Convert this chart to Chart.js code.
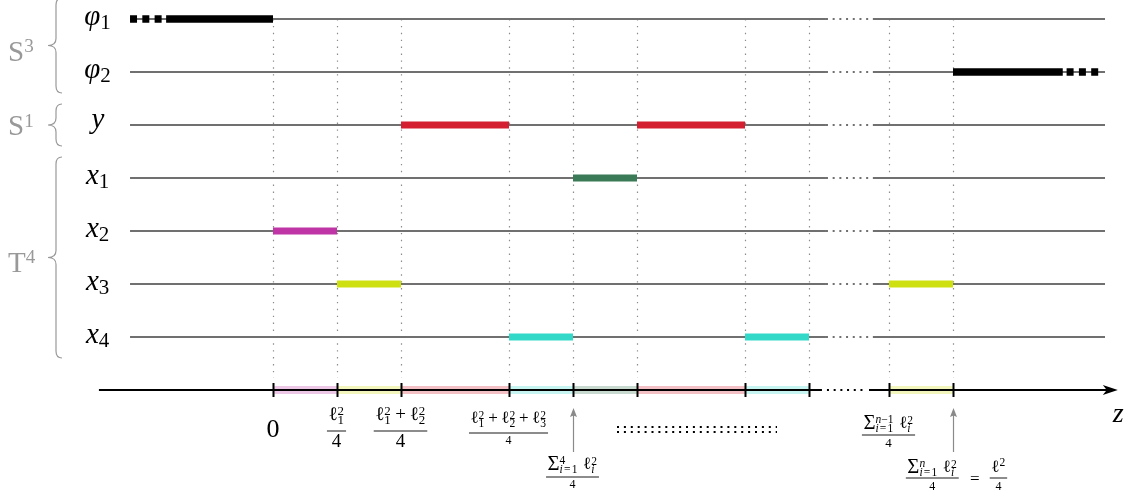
<!DOCTYPE html>
<html>
<head>
<meta charset="utf-8">
<script src="https://cdn.jsdelivr.net/npm/chart.js@4.4.1/dist/chart.umd.min.js"></script>
<style>
  html, body { margin: 0; padding: 0; background: #fff; }
  canvas { display: block; }
</style>
</head>
<body>
<canvas id="c" width="1137" height="498"></canvas>
<script>
// ---- data -------------------------------------------------------------
// Rows, top to bottom, and the colour of the intervals on each row.
const rowLabels = ['φ_1', 'φ_2', 'y', 'x_1', 'x_2', 'x_3', 'x_4'];
const rowColors = ['#000000', '#000000', '#d41f30', '#3b7a57', '#c035a5', '#cfe011', '#33d9c8'];
// Breakpoints on the z axis (unit: one ℓ_i²/4 step of the short intervals).
const zTicks = [0, 1, 2, 3.6875, 4.6875, 5.6875, 7.375, 8.375, 9.625, 10.625];
// Intervals per row as [zStart, zEnd].
const segPhi1 = [[-1.67, 0]];
const segPhi2 = [[10.625, 12.34]];
const segY = [[2, 3.6875], [5.6875, 7.375]];
const segX1 = [[4.6875, 5.6875]];
const segX2 = [[0, 1]];
const segX3 = [[1, 2], [9.625, 10.625]];
const segX4 = [[3.6875, 4.6875], [7.375, 8.375]];
// Dashed continuation of the φ intervals past the drawn range.
const fadePhi1 = [-2.234, -1.72];
const fadePhi2 = [12.40, 12.93];
// Extent of the row guide lines and of the elided (dotted) stretch.
const rowExtent = [-2.234, 13.0];
const rowGap = [8.64, 9.375];
const axisExtent = [-2.72, 13.2];
// Groups of rows.
const groupLabels = ['S^3', 'S^1', 'T^4'];
const groupFirst = [0, 2, 3];
const groupLast = [1, 2, 6];
// Labels under the z axis: which breakpoint, and the formula.
const tickLabelIdx = [0, 1, 2, 3, 4, 8, 9];
const tickLabels = [
  '0',
  '\\f{ℓ_1^2}{4}',
  '\\f{ℓ_1^2+ℓ_2^2}{4}',
  '\\f{ℓ_1^2+ℓ_2^2+ℓ_3^2}{4}',
  '\\f{Σ_{i=1}^4 ℓ_i^2}{4}',
  '\\f{Σ_{i=1}^{n−1} ℓ_i^2}{4}',
  '\\f{Σ_{i=1}^n ℓ_i^2}{4} = \\f{ℓ^2}{4}'
];
const arrowTickIdx = [4, 9];
const axisLabel = 'z';

// ---- layout -----------------------------------------------------------
const X_MIN = -273 / 64, X_MAX = (1137 - 273) / 64;
const Y_MIN = -19 / 53, Y_MAX = -19 / 53 + 498 / 53;
const AXIS_ROW = rowLabels.length;
const labelStyle = [
  { size: 26, axis: 428 },
  { size: 19, den: 19, axis: 431, gn: 11, gd: 16 },
  { size: 19, den: 19, axis: 431, gn: 11, gd: 16 },
  { size: 17, den: 12, axis: 433, gn: 10, gd: 11 },
  { size: 17, den: 12, axis: 477, gn: 8, gd: 11 },
  { size: 17, den: 13, axis: 435, gn: 7, gd: 12 },
  { size: 17, den: 12, axis: 478, gn: 6, gd: 12, dx: 4 }
];
const groupBaselineShift = [15, 10, 14];
const ellipsisZ = [5.375, 7.875];

const SERIF = '"Liberation Serif", "DejaVu Serif", serif';

function hexA(hex, a) {
  const n = parseInt(hex.slice(1), 16);
  return `rgba(${(n >> 16) & 255},${(n >> 8) & 255},${n & 255},${a})`;
}

// ---- small formula typesetter -----------------------------------------
function parseMath(src) {
  const atoms = [];
  let i = 0;
  function group() {
    if (src[i] === '{') {
      let d = 1, j = i + 1;
      while (d > 0) { if (src[j] === '{') d++; else if (src[j] === '}') d--; j++; }
      const g = src.slice(i + 1, j - 1);
      i = j;
      return g;
    }
    return src[i++];
  }
  while (i < src.length) {
    const c = src[i];
    if (c === '\\' && src[i + 1] === 'f') {
      i += 2;
      const n = group(), d = group();
      atoms.push({ frac: [n, d] });
      continue;
    }
    if (c === '^' || c === '_') {
      i++;
      const g = group();
      atoms[atoms.length - 1][c === '^' ? 'sup' : 'sub'] = g;
      continue;
    }
    atoms.push(c === ' ' ? { space: true } : { base: c });
    i++;
  }
  return atoms;
}

function isLetter(ch) { return /[A-Za-zφ]/.test(ch); }
function fontOf(ch, size, upright) {
  return ((!upright && isLetter(ch)) ? 'italic ' : '') + size.toFixed(2) + 'px ' + SERIF;
}

// Lays out a formula with baseline y starting at x; draws it when draw is true.
function typeset(ctx, src, size, x, y, draw, o) {
  let cx = x;
  const lvl = o.lvl || 0;
  for (const a of parseMath(src)) {
    if (a.space) { cx += size * 0.3; continue; }
    if (a.frac) {
      const st = o.st;
      const fo = Object.assign({}, o, { lvl: 0 });
      const nw = typeset(ctx, a.frac[0], st.size, 0, 0, false, fo);
      const dw = typeset(ctx, a.frac[1], st.den, 0, 0, false, fo);
      const w = Math.max(nw, dw) + 3;
      if (draw) {
        typeset(ctx, a.frac[0], st.size, cx + (w - nw) / 2, st.axis - st.gn, true, fo);
        typeset(ctx, a.frac[1], st.den, cx + (w - dw) / 2, st.axis + st.gd, true, fo);
        ctx.fillRect(cx, st.axis - 0.45, w, 0.9);
      }
      cx += w + 1;
      continue;
    }
    const ch = a.base;
    const big = ch === 'Σ';
    let pad = 0;
    if (ch === '=') pad = size * (lvl === 0 ? 0.3 : 0.1);
    else if (ch === '+' && lvl === 0) pad = size * 0.2;
    cx += pad;
    // summation sign is set a little larger and lower than the text around it
    const gs = big ? size * 1.22 : size;
    ctx.font = fontOf(ch, gs, o.upright);
    const w = ctx.measureText(ch).width;
    if (draw) ctx.fillText(ch, cx, y + (big ? size * 0.08 : 0));
    cx += w + pad;
    if (a.sup || a.sub) {
      const both = a.sup && a.sub;
      const ss = size * (o.scriptScale || 0.68);
      const kern = (!o.upright && isLetter(ch)) ? size * 0.06 : 0;
      const so = Object.assign({}, o, { lvl: lvl + 1 });
      let sw = 0;
      if (a.sup) {
        const raise = o.supRaise != null ? o.supRaise : (big ? 0.3 : (both ? 0.24 : 0.36));
        sw = Math.max(sw, kern + typeset(ctx, a.sup, ss, cx + kern, y - size * raise, draw, so));
      }
      if (a.sub) {
        const dy = o.subDy != null ? o.subDy : size * (big ? 0.26 : (both ? 0.22 : 0.2));
        sw = Math.max(sw, typeset(ctx, a.sub, ss, cx, y + dy, draw, so));
      }
      cx += sw + size * 0.03;
    }
  }
  return cx - x;
}

function brace(ctx, xTip, yTop, yBot) {
  const yMid = (yTop + yBot) / 2, xm = xTip + 8, xr = xTip + 14, r = 7;
  ctx.beginPath();
  ctx.moveTo(xr, yTop);
  ctx.quadraticCurveTo(xm, yTop, xm, yTop + r);
  ctx.lineTo(xm, yMid - r);
  ctx.quadraticCurveTo(xm, yMid, xTip, yMid);
  ctx.quadraticCurveTo(xm, yMid, xm, yMid + r);
  ctx.lineTo(xm, yBot - r);
  ctx.quadraticCurveTo(xm, yBot, xr, yBot);
  ctx.stroke();
}

function upArrow(ctx, px, yFrom, yTip) {
  ctx.beginPath();
  ctx.moveTo(px, yFrom);
  ctx.lineTo(px, yTip + 7);
  ctx.stroke();
  ctx.beginPath();
  ctx.moveTo(px, yTip);
  ctx.lineTo(px - 3.5, yTip + 9);
  ctx.lineTo(px, yTip + 7.5);
  ctx.lineTo(px + 3.5, yTip + 9);
  ctx.closePath();
  ctx.fill();
}

// ---- datasets ---------------------------------------------------------
const barRows = [segPhi1, segPhi2, segY, segX1, segX2, segX3, segX4];
const datasets = [];
barRows.forEach((segs, r) => segs.forEach(([a, b]) => datasets.push({
  data: [{ x: a, y: r }, { x: b, y: r }],
  borderColor: rowColors[r],
  borderWidth: r < 2 ? 7.5 : 7,
  order: 0
})));
[fadePhi1, fadePhi2].forEach(([a, b], r) => datasets.push({
  data: [{ x: a, y: r }, { x: b, y: r }],
  borderColor: rowColors[r],
  borderWidth: 7.5,
  borderDash: [7, 5.3],
  order: 0
}));
// Shaded copies of the coloured intervals along the z axis.
barRows.forEach((segs, r) => {
  if (r < 2) return;
  segs.forEach(([a, b]) => datasets.push({
    data: [{ x: a, y: AXIS_ROW }, { x: b, y: AXIS_ROW }],
    borderColor: hexA(rowColors[r], 0.28),
    borderWidth: 8,
    order: 1
  }));
});
// Thin guide line for each row, dotted across the elided stretch.
rowLabels.forEach((_, r) => datasets.push({
  data: [rowExtent[0], rowGap[0], rowGap[1], rowExtent[1]].map(x => ({ x, y: r })),
  borderColor: '#707070',
  borderWidth: 1.8,
  order: 2,
  segment: { borderDash: c => (c.p0DataIndex === 1 ? [2, 4.7] : undefined) }
}));

// ---- decorations: guides, axis, labels --------------------------------
const diagramPlugin = {
  id: 'diagram',
  beforeDatasetsDraw(chart) {
    const { ctx, scales: { x, y } } = chart;
    ctx.save();
    ctx.strokeStyle = '#8c8c8c';
    ctx.lineWidth = 1.2;
    ctx.setLineDash([1.4, 5.5]);
    const yTop = y.getPixelForValue(0);
    const yBot = y.getPixelForValue(AXIS_ROW) - 12;
    zTicks.forEach(z => {
      const px = Math.round(x.getPixelForValue(z)) + 0.5;
      ctx.beginPath();
      ctx.moveTo(px, yTop);
      ctx.lineTo(px, yBot);
      ctx.stroke();
    });
    ctx.restore();
  },
  afterDatasetsDraw(chart) {
    const { ctx, scales: { x, y } } = chart;
    const ay = y.getPixelForValue(AXIS_ROW);
    const g0 = x.getPixelForValue(rowGap[0]), g1 = x.getPixelForValue(rowGap[1]);
    const tip = x.getPixelForValue(axisExtent[1]);
    ctx.save();
    ctx.fillStyle = '#000';
    ctx.strokeStyle = '#000';
    // axis line with elided stretch
    ctx.lineWidth = 2;
    ctx.beginPath();
    ctx.moveTo(x.getPixelForValue(axisExtent[0]), ay);
    ctx.lineTo(g0 - 4, ay);
    ctx.moveTo(g1 - 4, ay);
    ctx.lineTo(tip - 10, ay);
    ctx.stroke();
    ctx.setLineDash([2, 4.7]);
    ctx.beginPath();
    ctx.moveTo(g0 + 1, ay);
    ctx.lineTo(g1 - 6, ay);
    ctx.stroke();
    ctx.setLineDash([]);
    // arrow head
    ctx.beginPath();
    ctx.moveTo(tip, ay);
    ctx.lineTo(tip - 15, ay - 5);
    ctx.lineTo(tip - 11, ay);
    ctx.lineTo(tip - 15, ay + 5);
    ctx.closePath();
    ctx.fill();
    // ticks
    ctx.lineWidth = 2;
    zTicks.forEach(z => {
      const px = Math.round(x.getPixelForValue(z)) + 0.5;
      ctx.beginPath();
      ctx.moveTo(px, ay - 7);
      ctx.lineTo(px, ay + 7);
      ctx.stroke();
    });
    // pointers to the two sums
    ctx.strokeStyle = '#8a8a8a';
    ctx.fillStyle = '#8a8a8a';
    ctx.lineWidth = 1.2;
    arrowTickIdx.forEach(k => {
      const px = Math.round(x.getPixelForValue(zTicks[k])) + 0.5;
      upArrow(ctx, px, ay + 62, ay + 18);
    });
    // row of colons under the elided intervals
    ctx.strokeStyle = '#000';
    ctx.lineWidth = 2;
    ctx.setLineDash([2, 4.9]);
    [ay + 37, ay + 42].forEach(yy => {
      ctx.beginPath();
      ctx.moveTo(x.getPixelForValue(ellipsisZ[0]), yy);
      ctx.lineTo(x.getPixelForValue(ellipsisZ[1]), yy);
      ctx.stroke();
    });
    ctx.setLineDash([]);
    ctx.restore();
  },
  afterDraw(chart) {
    const { ctx, scales: { x, y } } = chart;
    ctx.save();
    ctx.textBaseline = 'alphabetic';
    ctx.textAlign = 'left';
    ctx.fillStyle = '#000';
    // row labels
    rowLabels.forEach((lab, r) => {
      const o = { scriptScale: 21 / 29, subDy: 4 };
      const w = typeset(ctx, lab, 29, 0, 0, false, o);
      const base = y.getPixelForValue(r) + (lab.includes('_') ? 6 : 3);
      typeset(ctx, lab, 29, 98 - w / 2, base, true, o);
    });
    // tick labels
    tickLabels.forEach((lab, k) => {
      const st = labelStyle[k];
      const o = { st };
      const cxp = x.getPixelForValue(zTicks[tickLabelIdx[k]]) + (st.dx || 0);
      const w = typeset(ctx, lab, st.size, 0, 0, false, o);
      typeset(ctx, lab, st.size, cxp - w / 2, st.axis + 0.33 * st.size, true, o);
    });
    // axis name
    ctx.font = 'italic 28px ' + SERIF;
    ctx.fillText(axisLabel, x.getPixelForValue(axisExtent[1]) - 5, 422);
    // groups: gray braces and labels
    ctx.fillStyle = '#999';
    ctx.strokeStyle = '#999';
    ctx.lineWidth = 1.2;
    groupLabels.forEach((lab, g) => {
      const yTop = y.getPixelForValue(groupFirst[g]) - 21;
      const yBot = y.getPixelForValue(groupLast[g]) + 21;
      brace(ctx, 48, yTop, yBot);
      const mid = (yTop + yBot) / 2;
      typeset(ctx, lab, 29, 8, mid + groupBaselineShift[g], true, { upright: true, scriptScale: 0.66, supRaise: 0.28 });
    });
    ctx.restore();
  }
};

new Chart(document.getElementById('c'), {
  type: 'line',
  data: { datasets },
  options: {
    responsive: false,
    animation: false,
    devicePixelRatio: 1,
    events: [],
    layout: { padding: 0 },
    elements: {
      point: { radius: 0 },
      line: { tension: 0, borderCapStyle: 'butt', fill: false }
    },
    scales: {
      x: { type: 'linear', min: X_MIN, max: X_MAX, display: false },
      y: { type: 'linear', min: Y_MIN, max: Y_MAX, reverse: true, display: false }
    },
    plugins: { legend: { display: false }, tooltip: { enabled: false } }
  },
  plugins: [diagramPlugin]
});
</script>
</body>
</html>
